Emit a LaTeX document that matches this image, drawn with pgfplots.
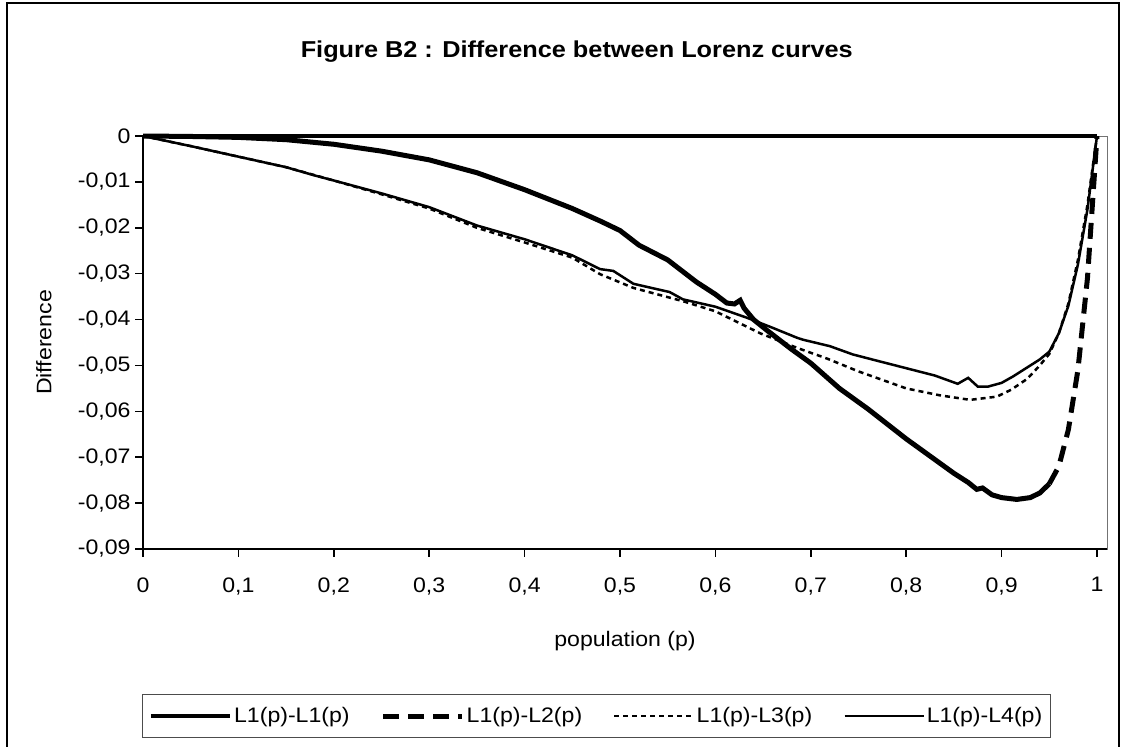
\documentclass[border=0pt]{standalone}
\usepackage{fontspec}
\setmainfont{Liberation Sans}[FakeStretch=1.1]
\usepackage{pgfplots}
\usepackage{pgfplotstable}
\pgfplotsset{compat=1.18}
\pgfplotsset{legend image code/.code={\draw[#1] (0bp,0bp) -- (79bp,0bp);}}

% L1(p)-L1(p): identically zero
\pgfplotstableread{
p d
0 0
1 0
}\difLone

% L1(p)-L2(p)
\pgfplotstableread{
p d
0 0
0.05 -0.0001
0.1 -0.0003
0.15 -0.0008
0.2 -0.0018
0.25 -0.0033
0.3 -0.0052
0.35 -0.0080
0.4 -0.0117
0.45 -0.0158
0.48 -0.0186
0.5 -0.0206
0.52 -0.0238
0.55 -0.0270
0.58 -0.0318
0.6 -0.0345
0.612 -0.0364
0.62 -0.0366
0.626 -0.0358
0.63 -0.0375
0.64 -0.0400
0.655 -0.0425
0.68 -0.0465
0.7 -0.0495
0.73 -0.0550
0.76 -0.0595
0.8 -0.0660
0.83 -0.0705
0.85 -0.0735
0.865 -0.0755
0.874 -0.0770
0.88 -0.0767
0.89 -0.0782
0.9 -0.0788
0.916 -0.0792
0.93 -0.0788
0.94 -0.0778
0.95 -0.0758
0.96 -0.0720
0.97 -0.0640
0.98 -0.0510
0.99 -0.0310
1.0 0
}\difLtwo

% L1(p)-L3(p)
\pgfplotstableread{
p d
0 0
0.05 -0.0022
0.1 -0.0045
0.15 -0.0068
0.2 -0.0097
0.25 -0.0127
0.3 -0.0158
0.35 -0.0200
0.4 -0.0232
0.45 -0.0265
0.479 -0.0301
0.514 -0.0331
0.566 -0.0360
0.6 -0.0382
0.647 -0.0430
0.686 -0.0462
0.717 -0.0485
0.75 -0.0513
0.8 -0.0550
0.835 -0.0565
0.867 -0.0575
0.895 -0.0568
0.91 -0.0553
0.927 -0.0529
0.94 -0.0500
0.95 -0.0475
0.96 -0.0430
0.97 -0.0365
0.98 -0.0270
0.99 -0.0150
1.0 0
}\difLthree

% L1(p)-L4(p)
\pgfplotstableread{
p d
0 0
0.05 -0.0022
0.1 -0.0045
0.15 -0.0068
0.18 -0.0086
0.2 -0.0097
0.25 -0.0125
0.3 -0.0155
0.35 -0.0195
0.4 -0.0225
0.45 -0.0260
0.479 -0.0290
0.493 -0.0294
0.514 -0.0322
0.535 -0.0332
0.552 -0.0340
0.566 -0.0356
0.6 -0.0372
0.633 -0.0396
0.66 -0.0418
0.686 -0.0440
0.692 -0.0444
0.72 -0.0458
0.744 -0.0476
0.77 -0.0490
0.8 -0.0506
0.83 -0.0522
0.854 -0.0540
0.865 -0.0527
0.875 -0.0546
0.886 -0.0546
0.9 -0.0538
0.912 -0.0524
0.94 -0.0487
0.95 -0.0470
0.96 -0.0430
0.97 -0.0370
0.98 -0.0280
0.99 -0.0160
1.0 0
}\difLfour

\begin{document}
\begin{tikzpicture}
\useasboundingbox (0bp,0bp) rectangle (1121bp,747bp);
\fill[white] (0bp,0bp) rectangle (1121bp,747bp);
% chart area border
\draw[black, line width=1.5bp] (7bp,0bp) -- (7bp,744bp) -- (1119bp,744bp) -- (1119bp,0bp);
\begin{axis}[
  at={(143bp,198bp)}, anchor=south west,
  scale only axis, width=964bp, height=413bp,
  xmin=0, xmax=1.0105, ymin=-0.09, ymax=0,
  clip=false,
  scaled y ticks=false, scaled x ticks=false,
  axis line style={draw=black!55, line width=1bp},
  xtick={0,0.1,0.2,0.3,0.4,0.5,0.6,0.7,0.8,0.9,1},
  xticklabels={0,{0,1},{0,2},{0,3},{0,4},{0,5},{0,6},{0,7},{0,8},{0,9},1},
  ytick={-0.09,-0.08,-0.07,-0.06,-0.05,-0.04,-0.03,-0.02,-0.01,0},
  yticklabels={{-0,09},{-0,08},{-0,07},{-0,06},{-0,05},{-0,04},{-0,03},{-0,02},{-0,01},0},
  xtick pos=left, ytick pos=left,
  tick align=outside, major tick length=8bp,
  tick style={black, line width=1.5bp},
  tick label style={font=\fontsize{21bp}{25bp}\selectfont},
  xticklabel style={yshift=-17bp},
  yticklabel style={xshift=-1bp},
  title={\fontsize{23bp}{27bp}\selectfont\bfseries Figure B2 : Difference between Lorenz curves},
  title style={at={(axis description cs:0.45,1.19)}, anchor=center},
  xlabel={population (p)},
  xlabel style={font=\fontsize{21bp}{25bp}\selectfont, at={(axis description cs:0.5,-0.223)}, anchor=center},
  ylabel={Difference},
  ylabel style={font=\fontsize{21bp}{25bp}\selectfont, at={(axis description cs:-0.1027,0.5)}, anchor=center, rotate=0},
  legend columns=4,
  legend style={at={(axis description cs:0.4704,-0.4044)}, anchor=center,
    draw=black!70, line width=1.2bp, inner xsep=6bp, inner ysep=11bp,
    font=\fontsize{21bp}{25bp}\selectfont,
    nodes={inner sep=2bp},
    /tikz/every even column/.append style={column sep=29bp}},
  legend cell align=left,
]
\addplot[black, line width=4.5bp] table[x=p, y=d] {\difLone};
\addlegendentry{L1(p)-L1(p)}
\addplot[black, line width=5bp, forget plot, restrict x to domain=0:0.95] table[x=p, y=d] {\difLtwo};
\addplot[black, line width=5bp, dash pattern=on 16bp off 9bp, restrict x to domain=0.95:1] table[x=p, y=d] {\difLtwo};
\addlegendentry{L1(p)-L2(p)}
\addplot[black, line width=2.5bp, dash pattern=on 5bp off 4bp] table[x=p, y=d] {\difLthree};
\addlegendentry{L1(p)-L3(p)}
\addplot[black, line width=2.5bp] table[x=p, y=d] {\difLfour};
\addlegendentry{L1(p)-L4(p)}
\draw[black, line width=2bp] (rel axis cs:0,1) -- (rel axis cs:0,0) -- (rel axis cs:1,0);
\end{axis}
\end{tikzpicture}
\end{document}
